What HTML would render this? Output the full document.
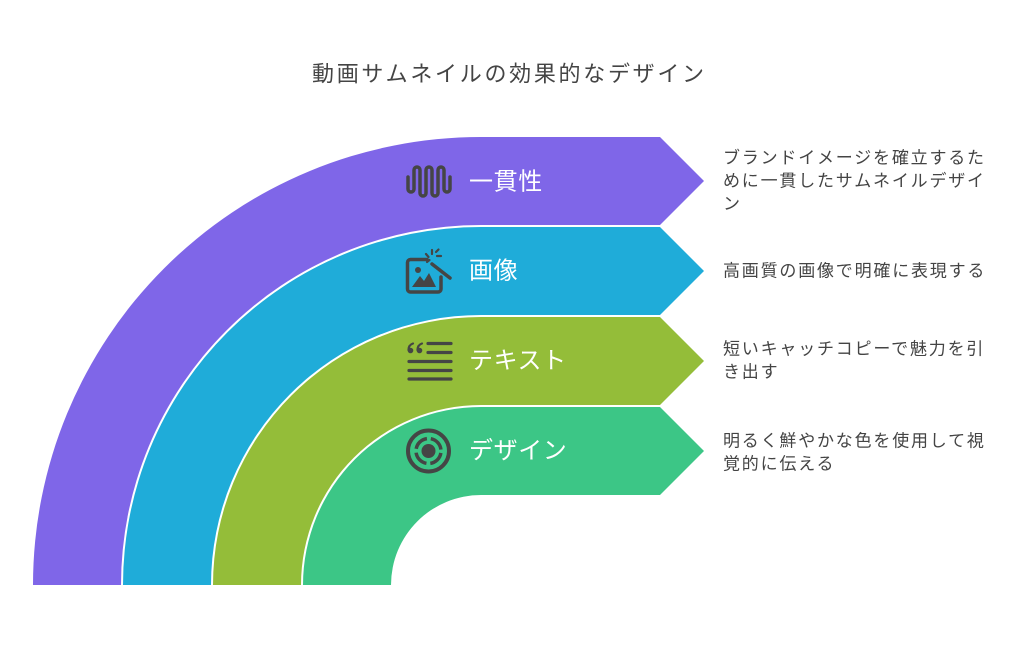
<!DOCTYPE html>
<html>
<head>
<meta charset="utf-8">
<style>
  html,body{margin:0;padding:0;background:#fff;}
  body{width:1023px;height:648px;overflow:hidden;}
  svg{display:block;}
  text{font-family:"Liberation Sans","Noto Sans CJK JP",sans-serif;}
</style>
</head>
<body>
<svg width="1023" height="648" viewBox="0 0 1023 648" xmlns="http://www.w3.org/2000/svg">
  <!-- title -->
  <text x="312" y="74" font-size="22" letter-spacing="2.7" fill="#444" dominant-baseline="central">動画サムネイルの効果的なデザイン</text>

  <!-- bands -->
  <path d="M33,585 A448,448 0 0 1 481,137 L660,137 L704,181 L660,225 L481,225 A360,360 0 0 0 121,585 Z" fill="#7f66e8"/>
  <path d="M123,585 A358,358 0 0 1 481,227 L660,227 L704,271 L660,315 L481,315 A270,270 0 0 0 211,585 Z" fill="#1facd9"/>
  <path d="M213,585 A268,268 0 0 1 481,317 L660,317 L704,361 L660,405 L481,405 A180,180 0 0 0 301,585 Z" fill="#94bd39"/>
  <path d="M303,585 A178,178 0 0 1 481,407 L660,407 L704,451 L660,495 L481,495 A90,90 0 0 0 391,585 Z" fill="#3cc686"/>

  <!-- labels -->
  <g font-size="24" letter-spacing="0.6" fill="#fff">
    <text x="469" y="182" dominant-baseline="central">一貫性</text>
    <text x="469" y="271" dominant-baseline="central">画像</text>
    <text x="469" y="361" dominant-baseline="central">テキスト</text>
    <text x="469" y="451" dominant-baseline="central">デザイン</text>
  </g>

  <!-- icon 1: wave -->
  <path d="M408,177 V189 A3,3 0 0 0 414,189 V170 A3,3 0 0 1 420,170 V193 A3,3 0 0 0 426,193 V170 A3,3 0 0 1 432,170 V193 A3,3 0 0 0 438,193 V170 A3,3 0 0 1 444,170 V189 A3,3 0 0 0 450,189 V177" fill="none" stroke="#454545" stroke-width="3.5" stroke-linecap="round" stroke-linejoin="round"/>

  <!-- icon 2: picture with wand -->
  <g stroke="#454545" stroke-linecap="round" fill="none">
    <path d="M427,259.5 H410.5 A3,3 0 0 0 407.5,262.5 V289 A3,3 0 0 0 410.5,292 H438 A3,3 0 0 0 441,289 V277" stroke-width="3.5"/>
    <line x1="432" y1="264" x2="450" y2="278" stroke-width="3.5"/>
    <line x1="432" y1="250" x2="432" y2="254" stroke-width="2.2"/>
    <line x1="437" y1="256" x2="441" y2="256" stroke-width="2.2"/>
    <line x1="426" y1="254" x2="428.5" y2="257" stroke-width="2.2"/>
    <line x1="436" y1="252" x2="438.5" y2="249.5" stroke-width="2.2"/>
    <line x1="427" y1="262" x2="429.5" y2="260" stroke-width="2.2"/>
  </g>
  <circle cx="418" cy="270" r="3" fill="#454545"/>
  <polygon points="412,287 420,276 424,281 429,273 436,287" fill="#454545"/>

  <!-- icon 3: text lines -->
  <g stroke="#454545" stroke-linecap="round" fill="none" stroke-width="3.2">
    <line x1="428" y1="343.5" x2="451" y2="343.5"/>
    <line x1="428" y1="352.5" x2="451" y2="352.5"/>
    <line x1="409" y1="361.5" x2="451" y2="361.5"/>
    <line x1="409" y1="370.5" x2="451" y2="370.5"/>
    <line x1="409" y1="379" x2="451" y2="379"/>
    <path d="M408.5,350 Q408.5,345 413,343.5" stroke-width="2.2"/>
    <path d="M417.5,350 Q417.5,345 422,343.5" stroke-width="2.2"/>
  </g>
  <circle cx="410.5" cy="350.5" r="2.8" fill="#454545"/>
  <circle cx="419.5" cy="350.5" r="2.8" fill="#454545"/>

  <!-- icon 4: target -->
  <circle cx="428.5" cy="451" r="20.5" fill="none" stroke="#454545" stroke-width="4"/>
  <circle cx="428.5" cy="451" r="12.5" fill="none" stroke="#454545" stroke-width="3.5" stroke-dasharray="15.63 4" stroke-dashoffset="17.63"/>
  <circle cx="428.5" cy="451" r="7" fill="#454545"/>

  <!-- descriptions -->
  <g font-size="17" letter-spacing="1.8" fill="#444">
    <text x="723" y="158" dominant-baseline="central">ブランドイメージを確立するた</text>
    <text x="723" y="181" dominant-baseline="central">めに一貫したサムネイルデザイ</text>
    <text x="723" y="204" dominant-baseline="central">ン</text>

    <text x="723" y="271" dominant-baseline="central">高画質の画像で明確に表現する</text>

    <text x="723" y="349" dominant-baseline="central">短いキャッチコピーで魅力を引</text>
    <text x="723" y="372" dominant-baseline="central">き出す</text>

    <text x="723" y="441" dominant-baseline="central">明るく鮮やかな色を使用して視</text>
    <text x="723" y="464" dominant-baseline="central">覚的に伝える</text>
  </g>
</svg>
</body>
</html>
